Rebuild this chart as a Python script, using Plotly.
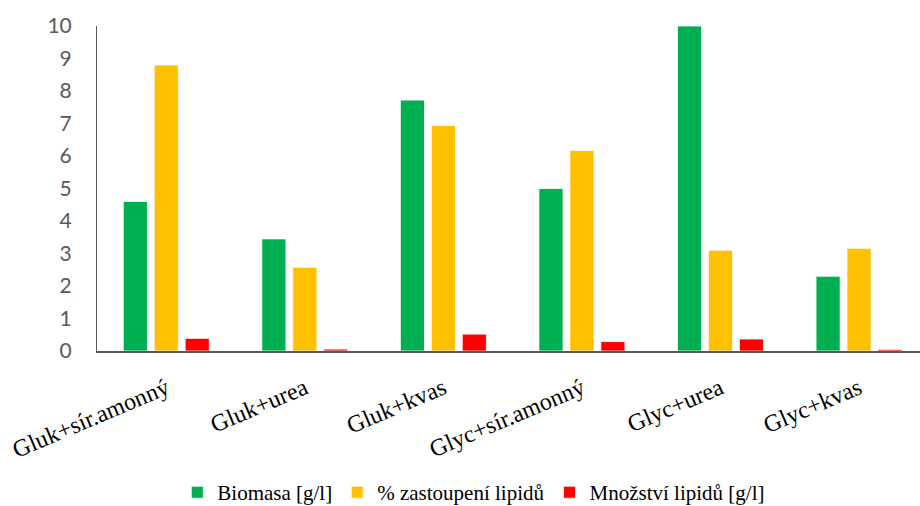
import plotly.graph_objects as go

categories = ["Gluk+sír.amonný", "Gluk+urea", "Gluk+kvas",
              "Glyc+sír.amonný", "Glyc+urea", "Glyc+kvas"]
biomasa = [4.6, 3.45, 7.72, 5.0, 10.0, 2.3]
zastoupeni = [8.8, 2.58, 6.94, 6.17, 3.1, 3.16]
mnozstvi = [0.39, 0.06, 0.52, 0.29, 0.37, 0.05]

series = [
    ("Biomasa [g/l]", biomasa, "#00B050"),
    ("% zastoupení lipidů", zastoupeni, "#FFC000"),
    ("Množství lipidů [g/l]", mnozstvi, "#FF0000"),
]

SERIF = "Liberation Serif"

fig = go.Figure()
for name, vals, color in series:
    fig.add_trace(go.Bar(
        x=categories, y=vals, name=name,
        marker=dict(color=color, line=dict(color="white", width=0.8)),
    ))

fig.update_layout(
    template="none",
    width=920, height=506,
    margin=dict(l=97, r=0, t=26, b=155),
    paper_bgcolor="white", plot_bgcolor="white",
    font=dict(family=SERIF, color="black", size=21),
    barmode="group", bargap=0.33, bargroupgap=0.22,
    showlegend=True,
    legend=dict(
        orientation="h", xref="container", yref="container",
        x=0.515, xanchor="center", y=0.067, yanchor="top",
        font=dict(family=SERIF, size=21, color="black"),
        itemwidth=30, bgcolor="rgba(0,0,0,0)",
    ),
    xaxis=dict(
        range=[-0.5, 5.44], showgrid=False, showline=True,
        linecolor="#595959", linewidth=2, ticks="",
        tickangle=-23, ticklabelstandoff=12,
        tickfont=dict(family=SERIF, size=24, color="black"),
    ),
    yaxis=dict(
        range=[0, 10], dtick=1, showgrid=False, showline=True,
        linecolor="#595959", linewidth=1, ticks="", zeroline=False,
        ticklabelstandoff=20,
        tickfont=dict(family="Lato", size=21, color="#595959"),
    ),
)

fig.write_html("out.html")
